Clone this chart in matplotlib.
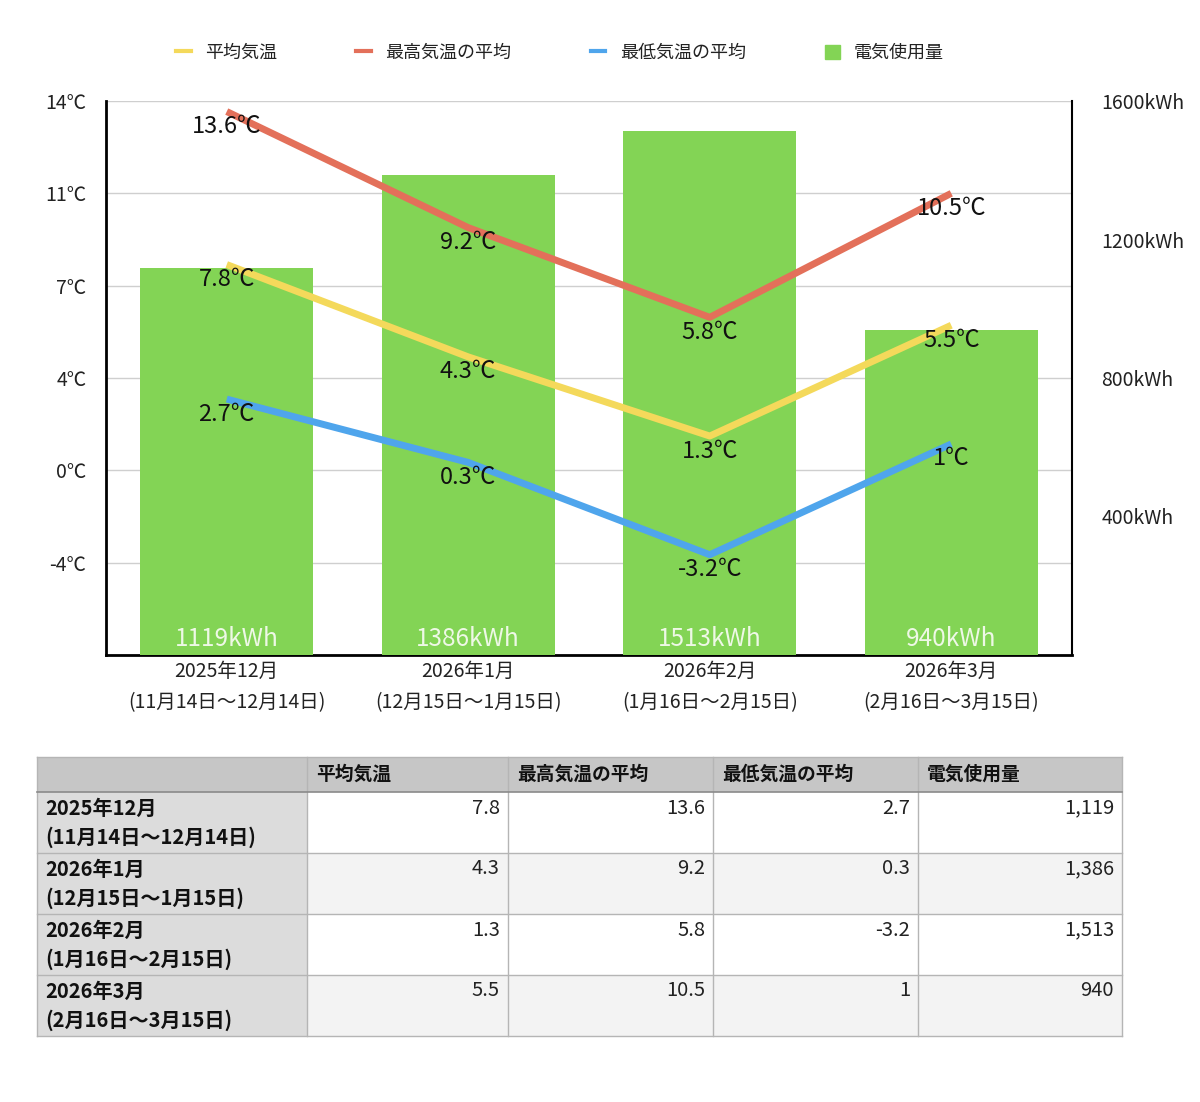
import matplotlib.pyplot as plt
from matplotlib.patches import Rectangle
from matplotlib.lines import Line2D

plt.rcParams['font.family'] = ['Noto Sans CJK JP', 'DejaVu Sans']

# data
months = ["2025年12月", "2026年1月", "2026年2月", "2026年3月"]
periods = ["(11月14日〜12月14日)", "(12月15日〜1月15日)", "(1月16日〜2月15日)", "(2月16日〜3月15日)"]
avg_temp = [7.8, 4.3, 1.3, 5.5]
max_temp = [13.6, 9.2, 5.8, 10.5]
min_temp = [2.7, 0.3, -3.2, 1]
power = [1119, 1386, 1513, 940]

names = ["平均気温", "最高気温の平均", "最低気温の平均", "電気使用量"]
temp_ticks = [-7, -3.5, 0, 3.5, 7, 10.5, 14]
temp_labels = ["", "-4℃", "0℃", "4℃", "7℃", "11℃", "14℃"]
kwh_ticks = [400, 800, 1200, 1600]

c_avg = "#f4d95b"
c_max = "#e3705a"
c_min = "#4fa5ec"
c_bar = "#83d455"

W, H = 1200, 1102
fig = plt.figure(figsize=(W / 100, H / 100), dpi=100)

# chart area
ax = fig.add_axes([106 / W, 447 / H, 966 / W, 554 / H])
x = list(range(len(months)))
ax.set_xlim(-0.5, len(months) - 0.5)
ax.set_ylim(-7, 14)
ax.set_yticks(temp_ticks)
ax.set_yticklabels(temp_labels, fontsize=14, color="#222222")
ax.tick_params(axis="y", length=0, pad=14)
ax.set_xticks(x)
ax.set_xticklabels([m + "\n" + p for m, p in zip(months, periods)], fontsize=14, linespacing=1.65, color="#222222")
ax.tick_params(axis="x", length=0, pad=4)
ax.grid(axis="y", color="#cfcfcf", lw=1)
ax.set_axisbelow(True)
for s in ["top", "right"]:
    ax.spines[s].set_visible(False)
ax.spines["left"].set_linewidth(2)
ax.spines["bottom"].set_linewidth(2)

# bars on right axis
axb = ax.twinx()
axb.set_ylim(0, 1600)
axb.set_yticks(kwh_ticks)
axb.set_yticklabels([f"{v}kWh" for v in kwh_ticks], fontsize=14, color="#222222")
axb.tick_params(axis="y", length=0, pad=21)
for s in ["top", "left", "bottom"]:
    axb.spines[s].set_visible(False)
axb.spines["right"].set_linewidth(1.5)
axb.bar(x, power, width=0.716, color=c_bar)
for xi, v in zip(x, power):
    axb.annotate(f"{v}kWh", (xi, 0), xytext=(0, 16), textcoords="offset pixels",
                 ha="center", va="center", fontsize=17.5, color="#eef8e6")

# lines on top
axl = ax.twinx()
axl.set_ylim(-7, 14)
axl.set_yticks([])
for s in axl.spines.values():
    s.set_visible(False)
for vals, col in [(avg_temp, c_avg), (max_temp, c_max), (min_temp, c_min)]:
    axl.plot(x, vals, color=col, lw=5, solid_capstyle="butt")
    for xi, v in zip(x, vals):
        axl.annotate(f"{v:g}℃", (xi, v), xytext=(0, -15), textcoords="offset pixels",
                     ha="center", va="center", fontsize=17, color="#111111")

# legend
handles = [Line2D([], [], color=c_avg, lw=3),
           Line2D([], [], color=c_max, lw=3),
           Line2D([], [], color=c_min, lw=3),
           Rectangle((0, 0), 1, 1, color=c_bar)]
fig.legend(handles, names, loc="center", bbox_to_anchor=(560 / W, 1 - 53 / H), ncol=4,
           frameon=False, fontsize=13, handlelength=0.8, handleheight=0.8,
           handletextpad=0.8, columnspacing=4.4, labelcolor="#222222")

# table
axt = fig.add_axes([0, 0, 1, 1])
axt.set_xlim(0, W)
axt.set_ylim(H, 0)
axt.axis("off")
cols = [37, 307, 508, 713, 918, 1122]
top = 757
head_h = 35
row_h = 61
n = len(months)
bottom = top + head_h + n * row_h

# header
axt.add_patch(Rectangle((cols[0], top), cols[-1] - cols[0], head_h, facecolor="#c6c6c6", edgecolor="none"))
for i, name in enumerate(names):
    axt.text(cols[i + 1] + 9, top + head_h / 2, name, ha="left", va="center",
             fontsize=13.5, fontweight="bold", color="#111111")

for r in range(n):
    y0 = top + head_h + r * row_h
    axt.add_patch(Rectangle((cols[0], y0), cols[1] - cols[0], row_h, facecolor="#dcdcdc", edgecolor="none"))
    bg = "#ffffff" if r % 2 == 0 else "#f3f3f3"
    axt.add_patch(Rectangle((cols[1], y0), cols[-1] - cols[1], row_h, facecolor=bg, edgecolor="none"))
    axt.text(cols[0] + 8, y0 + 16, months[r], ha="left", va="center", fontsize=14.5, fontweight="bold", color="#111111")
    axt.text(cols[0] + 8, y0 + 45, periods[r], ha="left", va="center", fontsize=14.5, fontweight="bold", color="#111111")
    row_vals = [f"{avg_temp[r]:g}", f"{max_temp[r]:g}", f"{min_temp[r]:g}", f"{power[r]:,}"]
    for c, s in enumerate(row_vals):
        axt.text(cols[c + 2] - 8, y0 + 16, s, ha="right", va="center", fontsize=14.5, color="#222222")

# grid lines of the table
for cx in cols:
    axt.plot([cx, cx], [top, bottom], color="#b5b5b5", lw=1)
axt.plot([cols[0], cols[-1]], [top, top], color="#b5b5b5", lw=1)
axt.plot([cols[0], cols[-1]], [top + head_h, top + head_h], color="#8a8a8a", lw=1.2)
for r in range(1, n + 1):
    yy = top + head_h + r * row_h
    axt.plot([cols[0], cols[-1]], [yy, yy], color="#b5b5b5", lw=1)

fig.savefig("out.png", dpi=100)
